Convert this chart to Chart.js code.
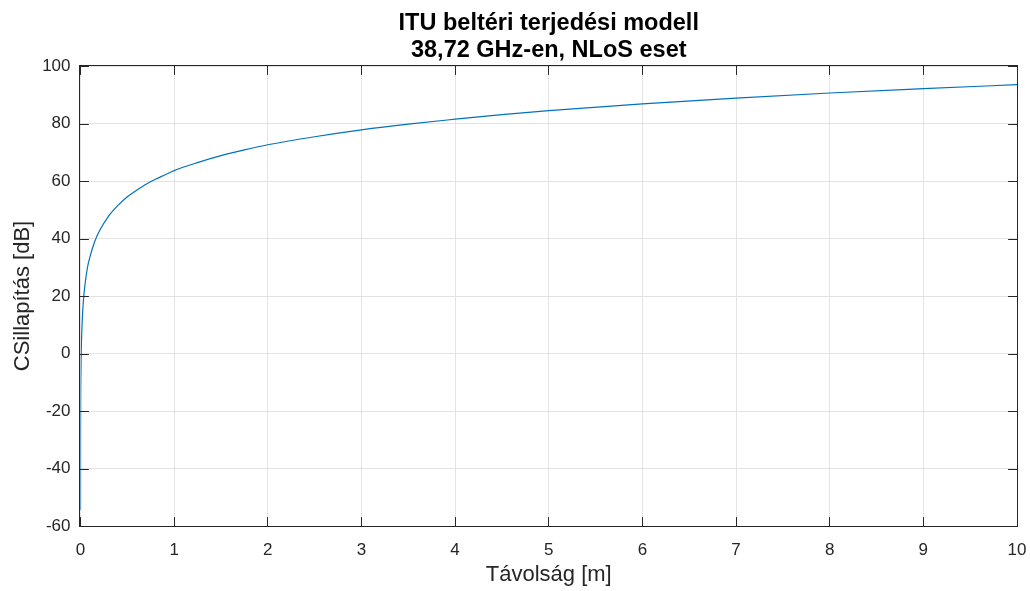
<!DOCTYPE html>
<html>
<head>
<meta charset="utf-8">
<script src="https://cdn.jsdelivr.net/npm/chart.js@4.4.1/dist/chart.umd.min.js"></script>
<style>
    html, body { margin: 0; padding: 0; background: #ffffff; }
    #wrap { width: 1030px; height: 591px; }
</style>
</head>
<body>
<div id="wrap"><canvas id="csillapitas" width="1030" height="591"></canvas></div>
<script>
// távolság [m] és a leolvasott csillapítás [dB]
let tavolsag = [0.0001, 0.001, 0.005, 0.01, 0.02, 0.03, 0.05, 0.075, 0.1, 0.15, 0.2, 0.3, 0.4, 0.5, 0.6, 0.7, 0.8, 0.9,
    1, 1.25, 1.5, 1.75, 2, 2.5, 3, 3.5, 4, 4.5, 5, 6, 7, 8, 9, 10];
let csillapitas = [-54.4, -26.5, -5.5, 3.5, 12.5, 18, 24.5, 30, 33.5, 38.8, 42.5, 47.8, 51.5, 54.5, 56.8, 58.9, 60.6, 62.1,
    63.6, 66.4, 68.8, 70.8, 72.6, 75.4, 77.8, 79.8, 81.5, 83.1, 84.5, 86.8, 88.8, 90.6, 92.1, 93.5];

let xTicks = [0, 1, 2, 3, 4, 5, 6, 7, 8, 9, 10];
let yTicks = [-60, -40, -20, 0, 20, 40, 60, 80, 100];

let cim = ["ITU beltéri terjedési modell", "38,72 GHz-en, NLoS eset"];
let xCim = "Távolság [m]";
let yCim = "CSillapítás [dB]";

let szoveg = "#262626";
let betu = "'Liberation Sans', Arial, Helvetica, sans-serif";

// kétsoros cím a rajzterület fölé középre
let cimPlugin = {
    id: 'cim',
    afterDraw(chart) {
        let ctx = chart.ctx;
        let a = chart.chartArea;
        let kozep = (a.left + a.right) / 2;
        ctx.save();
        ctx.fillStyle = '#000000';
        ctx.font = "bold 23.5px " + betu;
        ctx.textAlign = 'center';
        ctx.textBaseline = 'alphabetic';
        ctx.fillText(cim[0], kozep, 30);
        ctx.fillText(cim[1], kozep, 57);
        ctx.restore();
    }
};

// keret + befelé mutató osztások mind a négy oldalon (matlab stílus)
let keretPlugin = {
    id: 'keret',
    afterDatasetsDraw(chart) {
        let ctx = chart.ctx;
        let a = chart.chartArea;
        let xs = chart.scales.x;
        let ys = chart.scales.y;
        let len = 9.4;
        let bal = Math.floor(a.left) - 0.5;
        let jobb = Math.round(a.right) + 0.5;
        let fent = Math.round(a.top) - 0.5;
        let lent = Math.round(a.bottom) + 0.5;
        ctx.save();
        ctx.strokeStyle = szoveg;
        ctx.lineWidth = 1;
        ctx.beginPath();
        xTicks.forEach(v => {
            let px = Math.floor(xs.getPixelForValue(v)) + 0.5;
            ctx.moveTo(px, lent); ctx.lineTo(px, lent - len);
            ctx.moveTo(px, fent); ctx.lineTo(px, fent + len);
        });
        yTicks.forEach(v => {
            let py = Math.round(ys.getPixelForValue(v)) + 0.5;
            ctx.moveTo(bal, py); ctx.lineTo(bal + len, py);
            ctx.moveTo(jobb, py); ctx.lineTo(jobb - len, py);
        });
        ctx.stroke();
        ctx.strokeRect(bal, fent, jobb - bal, lent - fent);
        ctx.restore();
    }
};

let pontok = tavolsag.map((d, i) => ({ x: d, y: csillapitas[i] }));

let ctx = document.getElementById('csillapitas').getContext('2d');
new Chart(ctx, {
    type: 'line',
    data: {
        datasets: [{
            data: pontok,
            borderColor: '#0072BD',
            borderWidth: 1.2,
            pointRadius: 0,
            fill: false,
            cubicInterpolationMode: 'monotone'
        }]
    },
    options: {
        responsive: false,
        animation: false,
        layout: { padding: { left: 0, right: 13, top: 66, bottom: 0 } },
        plugins: {
            legend: { display: false },
            tooltip: { enabled: false },
            title: { display: false }
        },
        scales: {
            x: {
                type: 'linear',
                min: 0,
                max: 10,
                afterFit(scale) {
                    // fix magasság, a szélső feliratok ne szűkítsék a rajzterületet
                    scale.height = 65;
                    scale.paddingLeft = 0;
                    scale.paddingRight = 0;
                },
                afterBuildTicks(scale) { scale.ticks = xTicks.map(v => ({ value: v })); },
                ticks: {
                    color: szoveg,
                    font: { family: betu, size: 17 },
                    padding: 14,
                    maxRotation: 0
                },
                grid: { color: '#e3e3e3', drawTicks: false },
                border: { display: false },
                title: {
                    display: true,
                    text: xCim,
                    color: szoveg,
                    font: { family: betu, size: 22 },
                    padding: { top: 0, bottom: 3 }
                }
            },
            y: {
                type: 'linear',
                min: -60,
                max: 100,
                afterFit(scale) {
                    scale.width = 80.5;
                    scale.paddingTop = 0;
                    scale.paddingBottom = 0;
                },
                afterBuildTicks(scale) { scale.ticks = yTicks.map(v => ({ value: v })); },
                ticks: {
                    color: szoveg,
                    font: { family: betu, size: 17 },
                    padding: 10
                },
                grid: { color: '#e3e3e3', drawTicks: false },
                border: { display: false },
                title: {
                    display: true,
                    text: yCim,
                    color: szoveg,
                    font: { family: betu, size: 22 },
                    padding: { top: 10, bottom: 0 }
                }
            }
        }
    },
    plugins: [keretPlugin, cimPlugin]
});
</script>
</body>
</html>
